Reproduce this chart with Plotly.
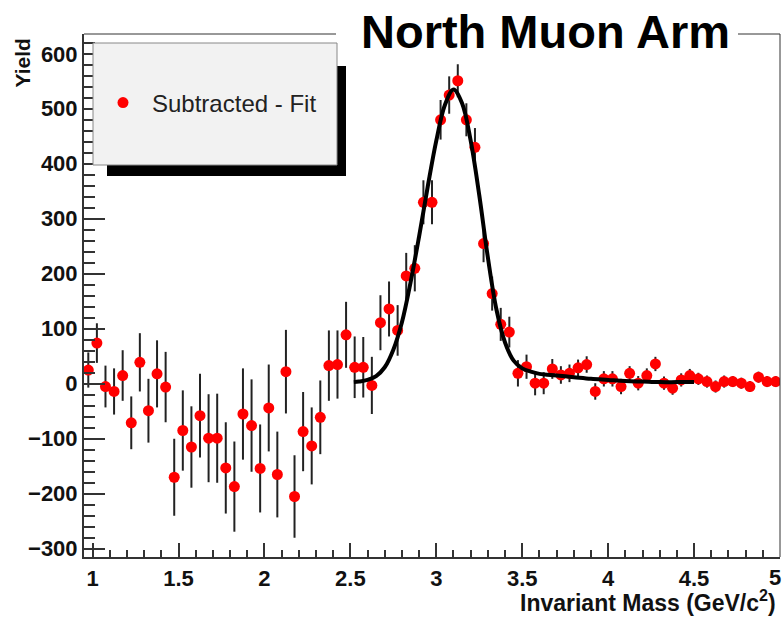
import plotly.graph_objects as go

# ---- data ----
mass = [round(0.975 + 0.05 * k, 3) for k in range(81)]  # bin centres (GeV/c^2)
yield_vals = [25, 74, -5, -14, 15, -71, 39, -49, 18, -6,
              -170, -85, -115, -58, -99, -99, -153, -187, -55, -76,
              -154, -44, -165, 22, -205, -87, -113, -61, 33, 35,
              89, 30, 30, -3, 111, 136, 97, 196, 210, 330,
              330, 480, 525, 551, 480, 430, 255, 164, 108, 94,
              19, 31, 1, 1, 27, 16, 19, 29, 35, -14,
              9, 9, -5, 19, 1, 15, 36, 1, -8, 7,
              15, 9, 4, -5, 4, 4, 1, -5, 12, 4, 4]
yield_err = [32, 36, 38, 42, 46, 48, 53, 58, 61, 64,
             70, 73, 74, 76, 80, 81, 83, 82, 83, 84,
             80, 79, 78, 76, 75, 72, 70, 67, 64, 62,
             60, 56, 55, 52, 50, 50, 46, 42, 42, 40,
             40, 36, 34, 30, 30, 35, 34, 31, 30, 28,
             24, 22, 22, 20, 18, 16, 16, 15, 15, 15,
             14, 14, 14, 13, 13, 13, 13, 12, 12, 12,
             12, 11, 11, 11, 11, 10, 10, 10, 10, 10, 10]

fit_x = [2.52, 2.55, 2.60, 2.65, 2.70, 2.75, 2.80, 2.85, 2.90, 2.95,
         3.00, 3.05, 3.10, 3.15, 3.20, 3.25, 3.30, 3.35, 3.40, 3.45,
         3.50, 3.55, 3.60, 3.70, 3.80, 3.90, 4.00, 4.10, 4.20, 4.30,
         4.40, 4.50]
fit_y = [3, 4, 7, 14, 30, 62, 112, 184, 268, 358,
         442, 507, 535, 510, 442, 343, 230, 135, 75, 42,
         28, 22, 18, 15, 12, 9, 7, 5, 4, 3,
         3, 3]

x_tickvals = [1, 1.5, 2, 2.5, 3, 3.5, 4, 4.5, 5]
x_ticktext = ["1", "1.5", "2", "2.5", "3", "3.5", "4", "4.5", "5"]

title_text = "North Muon Arm"
legend_label = "Subtracted - Fit"
x_title = "Invariant Mass (GeV/c<sup>2</sup>)"
y_title = "Yield"

# ---- layout geometry (pixels) ----
W, H = 784, 617
L, R, T, B = 84, 4, 34, 60
PW, PH = W - L - R, H - T - B


def px(xp):
    return (xp - L) / PW


def py(yp):
    return (H - B - yp) / PH


FONT = "Liberation Sans, Arial, Helvetica, sans-serif"
TICKFONT = dict(family=FONT, size=22, color="#111111", weight="bold")

fig = go.Figure()
fig.add_trace(go.Scatter(
    x=mass, y=yield_vals, mode="markers", name=legend_label,
    marker=dict(color="#ff0000", size=11, line=dict(width=0)),
    error_y=dict(type="data", array=yield_err, color="#222222",
                 thickness=2, width=0),
    showlegend=True,
))
fig.add_trace(go.Scatter(
    x=fit_x, y=fit_y, mode="lines", name="fit",
    line=dict(color="black", width=4, shape="spline", smoothing=1.0),
    showlegend=False,
))

shapes = [
    # legend shadow
    dict(type="rect", xref="paper", yref="paper",
         x0=px(107), x1=px(346), y0=py(176), y1=py(66),
         fillcolor="black", line=dict(width=0), layer="above"),
    # legend box
    dict(type="rect", xref="paper", yref="paper",
         x0=px(93), x1=px(337), y0=py(165), y1=py(43),
         fillcolor="#f2f2f2", line=dict(color="#888888", width=1), layer="above"),
    # frame top (broken by title) and right
    dict(type="line", xref="paper", yref="paper", x0=0, x1=px(336), y0=1, y1=1,
         line=dict(color="#333333", width=1)),
    dict(type="line", xref="paper", yref="paper", x0=px(738), x1=1, y0=1, y1=1,
         line=dict(color="#333333", width=1)),
    dict(type="line", xref="paper", yref="paper", x0=1, x1=1, y0=0, y1=1,
         line=dict(color="#333333", width=1)),
]

annotations = [
    dict(text=title_text, xref="paper", yref="paper", x=px(545), y=py(31),
         xanchor="center", yanchor="middle", showarrow=False,
         font=dict(family=FONT, size=47, color="black", weight="bold")),
    dict(text=x_title, xref="paper", yref="paper", x=px(778), y=py(601),
         xanchor="right", yanchor="middle", showarrow=False,
         font=dict(family=FONT, size=23, color="#111111", weight="bold")),
    dict(text=y_title, xref="paper", yref="paper", x=px(22), y=py(37),
         xanchor="center", yanchor="top", textangle=-90, showarrow=False,
         font=dict(family=FONT, size=21, color="#111111", weight="bold")),
    # last x tick label, kept just inside the right edge
    dict(text=x_ticktext[-1], xref="x", yref="paper", x=x_tickvals[-1], y=py(577),
         xanchor="right", xshift=3, yanchor="middle", showarrow=False, font=TICKFONT),
]

fig.update_layout(
    width=W, height=H,
    margin=dict(l=L, r=R, t=T, b=B, pad=0),
    paper_bgcolor="white", plot_bgcolor="white",
    shapes=shapes, annotations=annotations,
    legend=dict(x=px(94), y=py(103), xanchor="left", yanchor="middle",
                itemwidth=48,
                bgcolor="rgba(0,0,0,0)", borderwidth=0,
                font=dict(family=FONT, size=24, color="#222222")),
    xaxis=dict(range=[0.95, 5.0], showgrid=False, zeroline=False,
               showline=True, linecolor="#333333", linewidth=2,
               ticks="inside", ticklen=14, tickwidth=1.5, tickcolor="#333333",
               tickmode="array", tickvals=x_tickvals[:-1], ticktext=x_ticktext[:-1],
               minor=dict(dtick=0.1, tick0=1, ticks="inside", ticklen=7,
                          tickwidth=1.5, tickcolor="#333333"),
               tickfont=TICKFONT,
               ticklabelstandoff=1),
    yaxis=dict(range=[-315, 636], showgrid=False, zeroline=False,
               showline=True, linecolor="#333333", linewidth=2,
               ticks="inside", ticklen=21, tickwidth=1.5, tickcolor="#333333",
               tick0=0, dtick=100,
               minor=dict(dtick=20, tick0=0, ticks="inside", ticklen=11,
                          tickwidth=1.5, tickcolor="#333333"),
               tickfont=TICKFONT,
               ticklabelstandoff=0),
)

fig.write_html("out.html")
